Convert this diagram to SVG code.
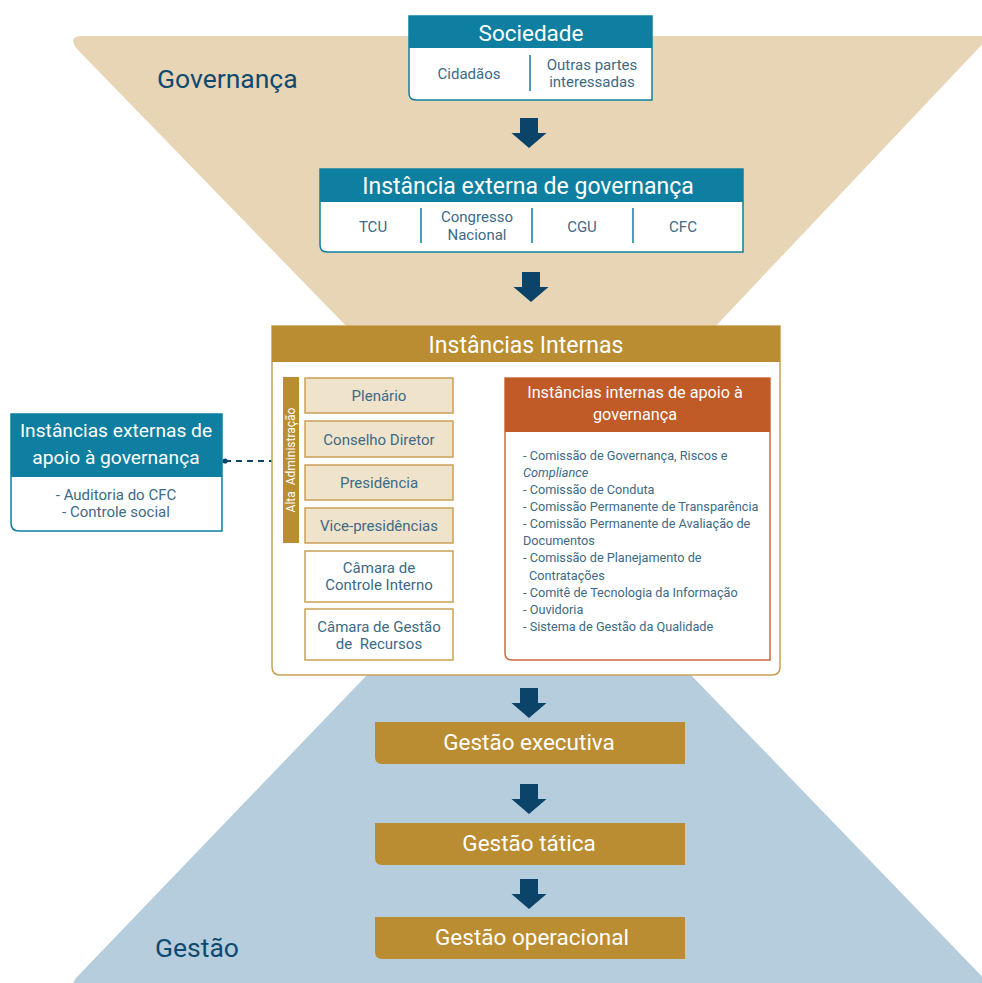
<svg xmlns="http://www.w3.org/2000/svg" width="982" height="983" viewBox="0 0 982 983">
<defs>
<style>
text{font-family:Roboto,"Liberation Sans",sans-serif;}
.hd{fill:#fff;text-anchor:middle;}
.bd{fill:#3D6A86;text-anchor:middle;font-size:15px;}
.lst{fill:#3D6A86;font-size:12.7px;}
.teal{fill:#0E7FA1;}
.tealb{fill:#fff;stroke:#0E7FA1;stroke-width:1.5;}
.gold{fill:#BA8D33;}
.goldb{stroke:#C9A055;stroke-width:1.5;}
.arr{fill:#0B4468;}
.div{stroke:#0E7FA1;stroke-width:1.5;}
.lbl{fill:#0E4A70;font-size:26.5px;}
.gt{font-size:22.5px;}
</style>
<path id="dn" d="M-9,0 H9 V15 H17.5 L0,30 L-17.5,15 H-9 Z"/>
</defs>

<!-- background trapezoids -->
<path d="M82,36 H990 L712,330 H350 L76,48 Q68,36 82,36 Z" fill="#E8D5B5"/>
<path d="M368,674 H690 L995,990 H82 Q68,990 76,978 Z" fill="#B5CDDC"/>
<text class="lbl" x="157" y="88">Governança</text>
<text class="lbl" x="155" y="957" font-size="27.5">Gestão</text>

<!-- connectors -->
<g id="connectors">
<use href="#dn" class="arr" x="529" y="118"/>
<use href="#dn" class="arr" x="531" y="272"/>
<use href="#dn" class="arr" x="529" y="688"/>
<use href="#dn" class="arr" x="529" y="784"/>
<use href="#dn" class="arr" x="529" y="879"/>
<path class="arr" d="M459,488 L472,472 V481 H485 V472 L498,488 L485,504 V495 H472 V504 Z"/>
<line x1="225" y1="461" x2="283" y2="461" stroke="#0B4468" stroke-width="1.8" stroke-dasharray="6,5"/>
<circle cx="225" cy="461" r="2.6" fill="#0B4468"/>
<circle cx="283" cy="461" r="2.6" fill="#0B4468"/>
</g>

<!-- Sociedade -->
<g id="sociedade">
<path class="tealb" d="M409,16 H652 V100 H416 Q409,100 409,93 Z"/>
<rect class="teal" x="409" y="16" width="243" height="32"/>
<text class="hd" x="531" y="41" font-size="22.5">Sociedade</text>
<line class="div" x1="530" y1="55" x2="530" y2="91"/>
<text class="bd" x="469" y="79">Cidadãos</text>
<text class="bd" x="592" y="70">Outras partes</text>
<text class="bd" x="592" y="87">interessadas</text>
</g>

<!-- Instância externa -->
<g id="externa">
<path class="tealb" d="M320,169 H743 V252 H327 Q320,252 320,245 Z"/>
<rect class="teal" x="320" y="169" width="423" height="33"/>
<text class="hd" x="528" y="194" font-size="23">Instância externa de governança</text>
<line class="div" x1="421" y1="208" x2="421" y2="243"/>
<line class="div" x1="532" y1="208" x2="532" y2="243"/>
<line class="div" x1="633" y1="208" x2="633" y2="243"/>
<text class="bd" x="373" y="232">TCU</text>
<text class="bd" x="477" y="222">Congresso</text>
<text class="bd" x="477" y="240">Nacional</text>
<text class="bd" x="582" y="232">CGU</text>
<text class="bd" x="683" y="232">CFC</text>
</g>

<!-- Instâncias externas de apoio -->
<g id="externas-apoio">
<path class="tealb" d="M11,414 H222 V531 H19 Q11,531 11,523 Z"/>
<rect class="teal" x="11" y="414" width="211" height="63"/>
<text class="hd" x="116" y="437" font-size="19.2">Instâncias externas de</text>
<text class="hd" x="116" y="464" font-size="19.2">apoio à governança</text>
<text class="bd" x="116" y="500">- Auditoria do CFC</text>
<text class="bd" x="116" y="517">- Controle social</text>
</g>

<!-- Instâncias Internas -->
<g id="internas">
<path d="M272,326 H780 V667 Q780,675 772,675 H280 Q272,675 272,667 Z" fill="#fff" stroke="#C9A055" stroke-width="1.5"/>
<rect class="gold" x="272" y="326" width="508" height="36"/>
<text class="hd" x="526" y="353" font-size="23">Instâncias Internas</text>
</g>

<g id="alta-administracao">
<rect class="gold" x="283" y="377" width="16" height="166"/>
<text class="hd" transform="translate(295,460) rotate(-90)" font-size="12" xml:space="preserve">Alta  Administração</text>
</g>

<g id="plenario">
<rect class="goldb" x="305" y="378" width="148" height="35" fill="#F0E3CC"/>
<text class="bd" x="379" y="401">Plenário</text>
</g>
<g id="conselho-diretor">
<rect class="goldb" x="305" y="421" width="148" height="36" fill="#F0E3CC"/>
<text class="bd" x="379" y="445">Conselho Diretor</text>
</g>
<g id="presidencia">
<rect class="goldb" x="305" y="465" width="148" height="35" fill="#F0E3CC"/>
<text class="bd" x="379" y="488">Presidência</text>
</g>
<g id="vice-presidencias">
<rect class="goldb" x="305" y="508" width="148" height="35" fill="#F0E3CC"/>
<text class="bd" x="379" y="531">Vice-presidências</text>
</g>
<g id="camara-controle">
<rect class="goldb" x="305" y="551" width="148" height="51" fill="#fff"/>
<text class="bd" x="379" y="573">Câmara de</text>
<text class="bd" x="379" y="590">Controle Interno</text>
</g>
<g id="camara-gestao">
<rect class="goldb" x="305" y="609" width="148" height="51" fill="#fff"/>
<text class="bd" x="379" y="632">Câmara de Gestão</text>
<text class="bd" x="379" y="649" xml:space="preserve">de  Recursos</text>
</g>

<!-- Instâncias internas de apoio -->
<g id="internas-apoio">
<path d="M505,378 H770 V660 H512 Q505,660 505,653 Z" fill="#fff" stroke="#D0693A" stroke-width="1.5"/>
<rect x="505" y="378" width="265" height="54" fill="#C05A26"/>
<text class="hd" x="635" y="398" font-size="16.2">Instâncias internas de apoio à</text>
<text class="hd" x="635" y="420" font-size="16.2">governança</text>
<text class="lst" x="523" y="460">- Comissão de Governança, Riscos e</text>
<text class="lst" x="523" y="477" font-style="italic">Compliance</text>
<text class="lst" x="523" y="494">- Comissão de Conduta</text>
<text class="lst" x="523" y="511">- Comissão Permanente de Transparência</text>
<text class="lst" x="523" y="528">- Comissão Permanente de Avaliação de</text>
<text class="lst" x="523" y="545">Documentos</text>
<text class="lst" x="523" y="562">- Comissão de Planejamento de</text>
<text class="lst" x="529" y="580">Contratações</text>
<text class="lst" x="523" y="597">- Comitê de Tecnologia da Informação</text>
<text class="lst" x="523" y="614">- Ouvidoria</text>
<text class="lst" x="523" y="631">- Sistema de Gestão da Qualidade</text>
</g>

<!-- Gestão levels -->
<g id="gestao-executiva">
<path class="gold" d="M375,722 H685 V764 H382 Q375,764 375,757 Z"/>
<text class="hd gt" x="529" y="750">Gestão executiva</text>
</g>
<g id="gestao-tatica">
<path class="gold" d="M375,823 H685 V865 H382 Q375,865 375,858 Z"/>
<text class="hd gt" x="529" y="851">Gestão tática</text>
</g>
<g id="gestao-operacional">
<path class="gold" d="M375,917 H685 V959 H382 Q375,959 375,952 Z"/>
<text class="hd gt" x="532" y="945">Gestão operacional</text>
</g>
</svg>
